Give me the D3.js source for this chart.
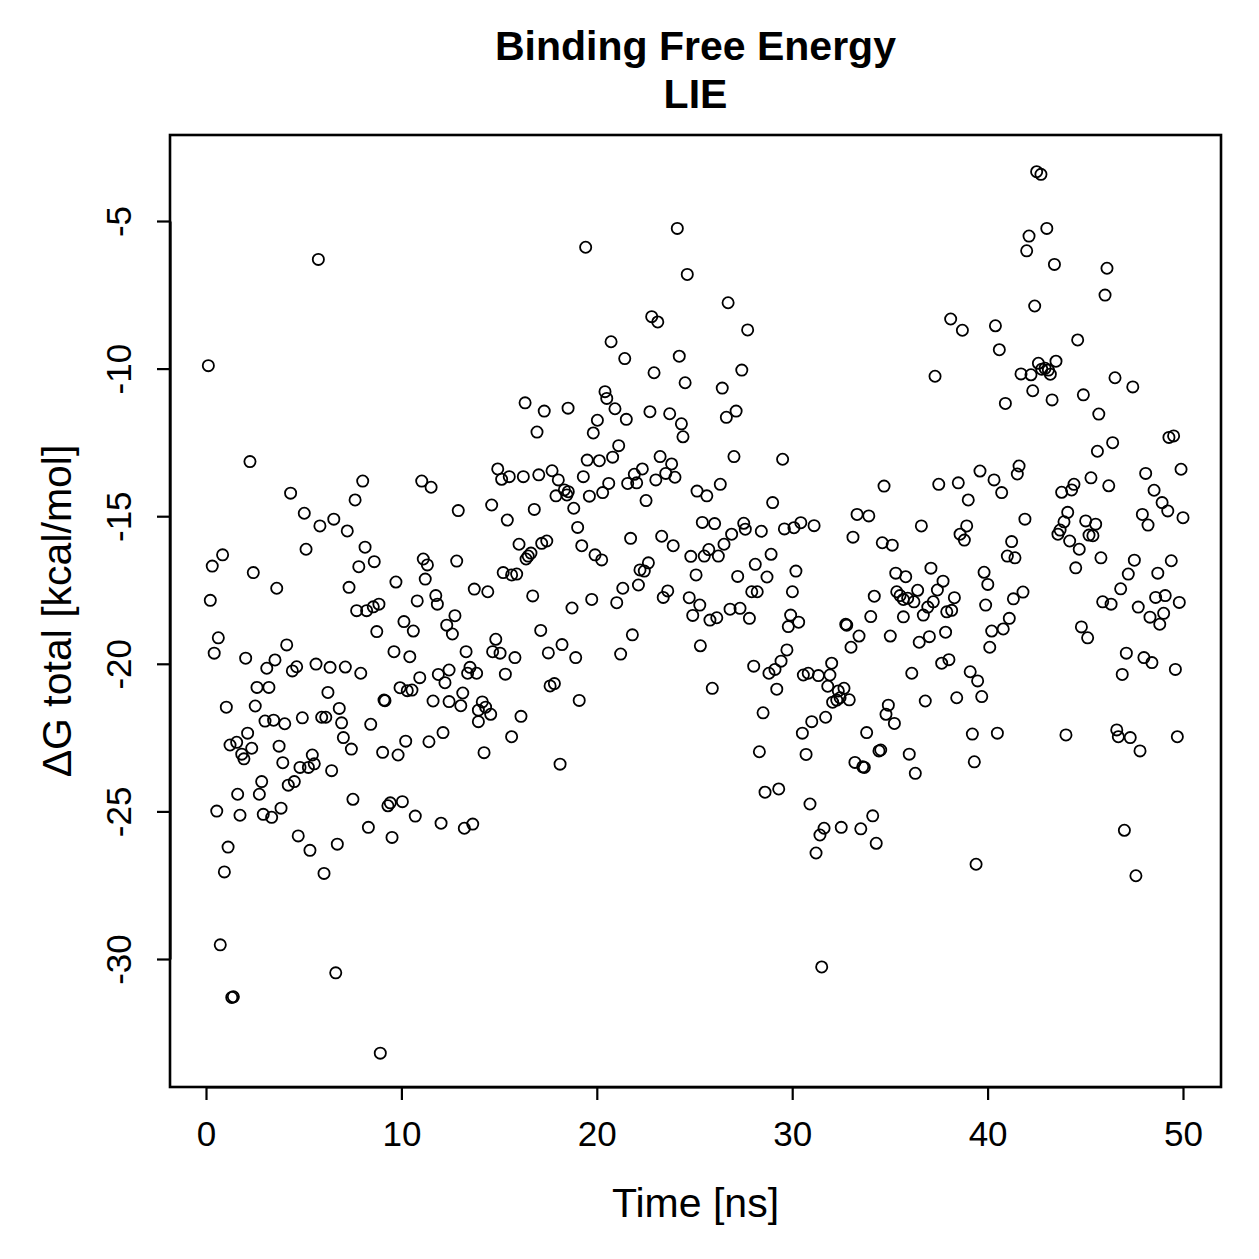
<!DOCTYPE html>
<meta charset="UTF-8">
<script src="https://d3js.org/d3.v7.min.js"></script>
<style>
  body { margin: 0; background: #fff; }
  text { font-family: "Liberation Sans", Arial, Helvetica, sans-serif; fill: #000; }
</style>
<div id="chart"></div>
<script>

// chart texts
var titleLines = ["Binding Free Energy", "LIE"]
var xLabel = "Time [ns]"
var yLabel = "\u0394G total [kcal/mol]"

// tick values
var xTicks = [0, 10, 20, 30, 40, 50]
var yTicks = [-5, -10, -15, -20, -25, -30]

// [time (ns), dG total (kcal/mol)]
var lie = [
  [0.12,-9.90],[5.75,-6.30],
  [2.25,-13.15],[4.33,-14.22],[5.03,-14.90],[5.83,-15.33],[6.54,-15.10],[7.23,-15.50],[7.63,-14.45],[8.02,-13.81],[11.04,-13.81],[11.52,-14.02],
  [5.12,-16.12],[8.14,-16.05],[8.61,-16.54],[7.82,-16.71],[0.85,-16.31],[0.32,-16.69],[2.42,-16.91],[3.62,-17.44],[0.22,-17.85],[7.32,-17.41],
  [11.12,-16.45],[11.33,-16.65],[11.22,-17.13],[9.72,-17.23],[11.76,-17.69],[11.84,-17.98],[10.81,-17.87],[7.71,-18.20],[8.22,-18.20],[8.56,-18.07],
  [8.85,-17.98],[8.74,-18.91],[10.13,-18.57],[10.61,-18.89],[12.32,-18.69],[12.61,-18.99],[0.63,-19.12],[0.42,-19.64],[2.03,-19.81],[4.13,-19.36],
  [3.53,-19.87],[3.11,-20.15],[4.64,-20.10],[4.42,-20.24],[5.63,-20.01],[6.35,-20.12],[7.13,-20.11],[7.92,-20.32],[9.62,-19.59],[10.43,-19.76],
  [10.94,-20.47],[11.89,-20.36],[12.23,-20.64],[12.44,-20.21],[2.61,-20.80],[3.22,-20.80],[6.24,-20.97],[9.93,-20.81],[10.30,-20.91],[10.54,-20.89],
  [9.16,-21.25],[9.11,-21.23],[11.62,-21.26],[12.44,-21.28],[1.04,-21.47],[2.52,-21.43],[3.02,-21.94],[3.46,-21.91],[4.03,-22.03],[4.93,-21.83],
  [5.92,-21.81],[6.13,-21.81],[6.82,-21.51],[6.94,-22.00],[8.43,-22.05],[7.03,-22.50],[7.44,-22.89],[9.04,-23.00],[9.83,-23.09],[10.22,-22.62],
  [11.41,-22.64],[12.13,-22.33],[2.13,-22.35],[1.23,-22.75],[1.57,-22.66],[2.34,-22.86],[1.83,-23.06],[1.94,-23.22],[3.74,-22.79],[3.93,-23.35],
  [5.44,-23.09],
  [4.81,-23.51],[5.24,-23.51],[5.54,-23.39],[6.43,-23.62],[2.85,-23.99],[1.62,-24.42],[2.73,-24.42],[4.21,-24.11],[4.52,-23.99],[0.55,-24.99],
  [1.74,-25.13],[2.93,-25.10],[3.36,-25.20],[3.84,-24.89],[7.52,-24.59],[9.31,-24.81],[9.43,-24.71],[10.05,-24.67],[10.71,-25.16],[12.03,-25.40],
  [8.31,-25.54],[9.52,-25.88],[4.72,-25.83],[5.32,-26.32],[6.72,-26.11],[1.13,-26.21],[0.94,-27.05],[6.04,-27.10],[0.73,-29.52],[6.64,-30.47],
  [1.40,-31.28],[1.32,-31.30],[8.92,-33.19],
  [18.12,-23.40],[13.22,-25.57],[13.65,-25.43],[14.23,-23.01],
  [19.51,-13.10],[20.13,-13.12],[20.81,-13.00],[23.24,-12.98],[23.83,-13.23],[14.93,-13.40],[15.13,-13.75],[15.52,-13.66],[16.24,-13.66],[17.03,-13.60],
  [17.71,-13.46],[18.03,-13.77],[18.34,-14.11],[18.54,-14.17],[18.47,-14.28],[17.91,-14.31],[18.82,-14.73],[19.31,-13.66],[19.62,-14.32],[20.30,-14.20],
  [20.61,-13.89],[21.58,-13.89],[21.92,-13.58],[22.04,-13.87],[22.33,-13.40],[23.02,-13.77],[23.53,-13.55],[24.00,-13.68],[22.52,-14.47],[25.13,-14.15],
  [12.91,-14.81],[14.62,-14.62],[15.42,-15.13],[16.80,-14.77],[19.02,-15.38],[16.02,-15.95],[16.63,-16.25],[16.49,-16.35],[16.38,-16.45],[17.18,-15.92],
  [17.44,-15.84],[19.23,-16.00],[19.91,-16.31],[20.25,-16.48],[21.73,-15.75],[23.32,-15.68],[23.91,-16.00],[24.81,-16.36],[12.83,-16.52],[15.21,-16.91],
  [15.64,-16.99],[15.90,-16.96],[13.73,-17.47],[14.42,-17.56],[16.72,-17.70],[18.73,-18.11],[19.74,-17.82],[21.02,-17.93],[21.33,-17.44],[22.13,-17.33],
  [22.21,-16.82],[22.43,-16.86],[22.64,-16.58],[23.40,-17.75],[23.63,-17.53],[24.73,-17.76],[24.91,-18.36],[12.74,-18.37],[17.13,-18.87],[21.82,-19.02],
  [14.83,-19.17],[14.67,-19.59],[15.05,-19.64],[15.81,-19.79],[13.31,-19.59],[17.52,-19.63],[18.22,-19.35],[18.92,-19.79],[21.22,-19.67],[13.51,-20.12],
  [13.39,-20.32],[13.85,-20.32],[15.32,-20.35],[17.61,-20.75],[17.83,-20.67],[13.14,-20.99],[13.04,-21.42],[14.14,-21.29],[14.31,-21.47],[13.94,-21.57],
  [14.57,-21.71],[13.94,-21.96],[16.12,-21.78],[19.10,-21.24],[15.64,-22.47],
  [24.12,-5.25],[19.43,-5.89],[24.63,-6.81],[22.81,-8.24],[23.12,-8.42],[20.73,-9.09],[21.43,-9.66],[24.22,-9.58],[22.93,-10.14],[24.52,-10.48],
  [20.42,-10.78],[20.51,-11.01],[16.33,-11.16],[17.31,-11.44],[18.53,-11.34],[20.93,-11.36],[20.03,-11.75],[21.51,-11.72],[22.72,-11.46],[23.73,-11.53],
  [24.33,-11.87],[24.41,-12.31],[16.94,-12.15],[19.82,-12.18],[21.12,-12.61],
  [26.72,-7.77],[27.72,-8.69],[27.42,-10.05],[26.42,-10.66],[27.13,-11.44],[26.63,-11.65],[37.31,-10.26],
  [42.51,-3.33],[42.73,-3.42],[43.03,-5.25],[42.12,-5.51],[42.00,-6.01],[43.42,-6.47],[46.11,-6.60],[46.01,-7.51],[42.41,-7.88],[38.11,-8.32],
  [38.71,-8.70],[40.40,-8.55],[40.60,-9.36],[44.61,-9.03],[42.60,-9.82],[43.50,-9.75],[41.71,-10.18],[42.22,-10.21],[42.77,-10.02],[42.94,-9.99],
  [43.11,-10.05],[43.21,-10.19],[42.31,-10.75],[43.30,-11.06],[40.91,-11.18],[44.90,-10.89],[46.52,-10.31],[47.43,-10.62],[45.69,-11.54],[46.40,-12.51],
  [45.62,-12.80],[49.28,-12.33],[49.52,-12.28],
  [27.02,-12.98],[29.51,-13.07],[26.32,-13.92],[25.63,-14.31],[29.00,-14.54],[34.70,-13.98],[37.50,-13.92],[33.32,-14.94],[33.92,-14.99],[36.61,-15.33],
  [25.40,-15.21],[26.03,-15.25],[27.52,-15.24],[27.60,-15.44],[28.42,-15.51],[26.90,-15.61],[29.60,-15.43],[30.09,-15.39],[30.44,-15.22],[31.12,-15.32],
  [33.11,-15.71],[34.61,-15.90],[35.12,-15.98],[26.51,-15.95],[25.73,-16.13],[25.50,-16.35],[26.22,-16.35],[28.92,-16.29],[28.11,-16.63],[30.19,-16.86],
  [27.21,-17.04],[28.71,-17.06],[25.08,-16.99],[27.93,-17.56],[28.21,-17.56],[30.01,-17.56],[25.27,-18.01],[25.79,-18.52],[26.14,-18.44],[26.82,-18.15],
  [27.33,-18.12],[27.81,-18.46],[29.92,-18.35],[30.33,-18.59],[29.80,-18.74],[32.74,-18.66],[32.79,-18.69],[34.02,-18.40],[34.20,-17.71],[35.30,-16.93],
  [35.81,-17.05],[37.10,-16.76],[37.72,-17.20],[37.43,-17.50],[36.42,-17.51],[35.35,-17.56],[35.52,-17.69],[35.69,-17.82],[35.91,-17.78],[36.23,-17.90],
  [37.22,-17.90],[36.94,-18.08],[36.71,-18.35],[37.91,-18.24],[35.69,-18.41],[25.30,-19.39],[33.42,-19.06],[33.01,-19.44],[35.02,-19.06],[36.50,-19.27],
  [37.02,-19.08],[37.85,-18.93],[29.73,-19.53],[29.43,-19.91],[29.12,-20.19],[28.81,-20.32],[28.03,-20.08],[25.91,-20.83],[29.21,-20.86],[30.57,-20.38],
  [30.82,-20.32],[31.34,-20.40],[32.02,-19.98],[31.93,-20.38],[31.82,-20.76],[32.36,-20.92],[32.65,-20.83],[32.92,-21.22],[32.45,-21.15],[32.28,-21.23],
  [32.07,-21.30],[36.12,-20.32],[37.65,-19.98],[36.81,-21.26],[28.51,-21.66],[31.00,-21.96],[31.71,-21.81],[30.52,-22.35],[34.92,-21.40],[34.80,-21.71],
  [35.23,-22.02],[33.81,-22.33],[28.32,-22.98],[30.71,-23.07],[34.44,-22.95],[34.53,-22.92],[35.99,-23.06],
  [33.21,-23.34],[33.69,-23.51],[33.61,-23.49],[36.30,-23.71],[28.61,-24.35],[29.31,-24.24],[30.91,-24.75],[34.12,-25.15],[31.63,-25.57],[31.42,-25.80],
  [32.51,-25.54],[33.51,-25.59],[34.30,-26.08],[31.22,-26.41],[31.51,-30.27],
  [38.50,-13.87],[39.61,-13.47],[40.33,-13.77],[40.72,-14.20],[41.61,-13.30],[41.52,-13.57],[39.01,-14.45],[41.91,-15.10],[38.93,-15.33],[38.59,-15.61],
  [38.81,-15.81],[41.23,-15.86],[41.01,-16.35],[41.40,-16.41],[39.82,-16.90],[40.01,-17.31],[38.30,-17.76],[38.16,-18.19],[39.90,-18.01],[41.32,-17.80],
  [41.81,-17.57],[41.11,-18.46],[40.80,-18.82],[40.21,-18.89],[40.11,-19.44],[38.02,-19.86],[39.11,-20.27],[39.49,-20.58],[38.42,-21.15],[39.70,-21.11],
  [39.22,-22.38],[40.50,-22.35],[39.32,-23.32],[43.79,-14.19],[44.30,-14.11],[44.42,-13.92],[45.29,-13.70],[46.20,-13.97],[48.09,-13.55],[49.90,-13.41],
  [48.52,-14.12],[48.93,-14.54],[49.22,-14.82],[50.00,-15.05],[47.92,-14.94],[48.21,-15.30],[44.10,-14.87],[43.91,-15.19],[43.71,-15.47],[43.60,-15.61],
  [44.20,-15.84],[44.69,-16.12],[45.02,-15.16],[45.53,-15.27],[45.19,-15.64],[45.39,-15.66],[45.80,-16.41],[44.51,-16.75],[47.51,-16.49],[49.40,-16.51],
  [47.20,-16.96],[48.71,-16.93],[46.81,-17.46],[45.89,-17.90],[46.32,-17.98],[47.71,-18.08],[48.60,-17.75],[49.09,-17.69],[49.81,-17.92],[48.31,-18.42],
  [49.01,-18.29],[48.81,-18.66],[44.80,-18.75],[45.12,-19.12],[47.10,-19.64],[48.00,-19.79],[48.41,-19.96],[46.89,-20.36],[49.61,-20.19],[44.01,-22.41],
  [46.61,-22.24],[46.69,-22.47],[47.30,-22.50],[47.80,-22.95],[49.71,-22.47],
  [47.00,-25.64],[39.41,-26.79],[47.59,-27.18]
]

var width = 1259
var height = 1259

// plot box (R style)
var box = {left: 170, top: 135, right: 1221, bottom: 1087}

var svg = d3.select("#chart")
  .append("svg")
    .attr("width", width)
    .attr("height", height)

svg.append("rect")
  .attr("width", width)
  .attr("height", height)
  .attr("fill", "#fff")

var x = d3.scaleLinear()
  .domain([0, 50])
  .range([206, 1183])

var y = d3.scaleLinear()
  .domain([-30, -5])
  .range([959, 221])

// points
svg.append("g")
  .selectAll("circle")
  .data(lie)
  .enter()
  .append("circle")
    .attr("cx", function(d){ return x(d[0]) })
    .attr("cy", function(d){ return y(d[1]) })
    .attr("r", 5.6)
    .attr("fill", "none")
    .attr("stroke", "#000")
    .attr("stroke-width", 1.8)

// x axis
var xAxis = svg.append("g")
  .attr("transform", "translate(0," + box.bottom + ")")
  .call(d3.axisBottom(x).tickValues(xTicks).tickSize(13).tickSizeOuter(0).tickPadding(21)
    .tickFormat(function(d){ return String(d) }))
xAxis.selectAll("path, line").attr("stroke", "#000").attr("stroke-width", 2.2)
xAxis.selectAll("text").attr("font-size", 35).attr("font-family", "Liberation Sans, Arial, sans-serif")

// y axis with rotated labels
var yAxis = svg.append("g")
  .attr("transform", "translate(" + box.left + ",0)")
  .call(d3.axisLeft(y).tickValues(yTicks).tickSize(13).tickSizeOuter(0)
    .tickFormat(function(d){ return String(d) }))
yAxis.selectAll("path, line").attr("stroke", "#000").attr("stroke-width", 2.2)
yAxis.selectAll("text")
  .attr("font-size", 35)
  .attr("font-family", "Liberation Sans, Arial, sans-serif")
  .attr("x", 0)
  .attr("y", -39)
  .attr("dy", 0)
  .attr("text-anchor", "middle")
  .attr("transform", "rotate(-90)")

// box
svg.append("rect")
  .attr("x", box.left)
  .attr("y", box.top)
  .attr("width", box.right - box.left)
  .attr("height", box.bottom - box.top)
  .attr("fill", "none")
  .attr("stroke", "#000")
  .attr("stroke-width", 2.6)

var cx = (box.left + box.right) / 2

// title
svg.selectAll(".title")
  .data(titleLines)
  .enter()
  .append("text")
    .attr("class", "title")
    .attr("x", cx)
    .attr("y", function(d, i){ return 60 + i * 48 })
    .attr("text-anchor", "middle")
    .attr("font-size", 41)
    .attr("font-weight", "bold")
    .text(function(d){ return d })

// axis labels
svg.append("text")
  .attr("x", cx)
  .attr("y", 1217)
  .attr("text-anchor", "middle")
  .attr("font-size", 41)
  .text(xLabel)

svg.append("text")
  .attr("transform", "translate(71," + ((box.top + box.bottom) / 2) + ") rotate(-90)")
  .attr("text-anchor", "middle")
  .attr("font-size", 41)
  .text(yLabel)

</script>
